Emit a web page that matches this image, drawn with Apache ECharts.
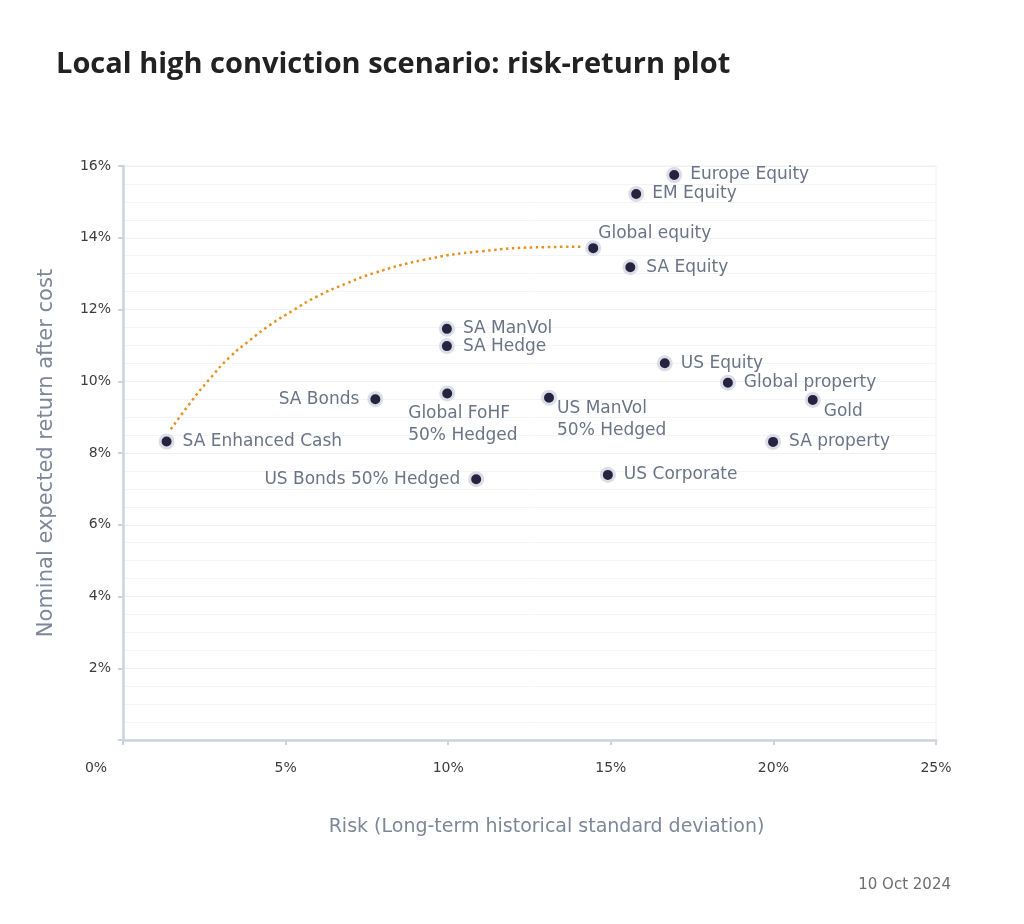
<!DOCTYPE html>
<html>
<head>
<meta charset="utf-8">
<script src="https://cdn.jsdelivr.net/npm/echarts@6/dist/echarts.min.js"></script>
<style>
  html, body { margin: 0; padding: 0; background: #fff; }
  #chart { width: 1024px; height: 924px; }
</style>
</head>
<body>
<div id="chart"></div>
<script>
// asset classes, risk (x, %) and nominal expected return (y, %)
const names = ['SA Enhanced Cash', 'SA Bonds', 'Global FoHF\n50% Hedged', 'US Bonds 50% Hedged',
  'SA ManVol', 'SA Hedge', 'US ManVol\n50% Hedged', 'Global equity', 'SA Equity', 'EM Equity',
  'Europe Equity', 'US Corporate', 'US Equity', 'Global property', 'Gold', 'SA property'];
const risk = [1.34, 7.76, 9.97, 10.86, 9.96, 9.96, 13.10, 14.46, 15.60, 15.78,
  16.95, 14.91, 16.66, 18.60, 21.21, 19.99];
const ret = [8.32, 9.50, 9.66, 7.27, 11.46, 10.98, 9.54, 13.71, 13.18, 15.22,
  15.75, 7.39, 10.50, 9.96, 9.48, 8.31];

// dotted frontier curve
const frontierRisk = [1.47, 2.06, 2.68, 3.29, 3.91, 4.52, 5.24, 5.96, 6.88, 7.70, 9.23, 10.98, 13.03, 14.10];
const frontierRet = [8.66, 9.39, 10.08, 10.68, 11.15, 11.57, 11.98, 12.36, 12.73, 13.01, 13.38, 13.62, 13.74, 13.75];

const FONT = 'DejaVu Sans';
const labelColor = '#6b7486';
const axisColor = '#cdd2db';

// label placement per point (not data): side and nudge in px
const placement = {
  'SA Bonds': { pos: 'left' },
  'US Bonds 50% Hedged': { pos: 'left' },
  'Global FoHF\n50% Hedged': { pos: 'right', dx: -55, dy: 31 },
  'US ManVol\n50% Hedged': { pos: 'right', dx: -8, dy: 22 },
  'Global equity': { pos: 'right', dx: -11, dy: -15 },
  'Gold': { pos: 'right', dx: -5, dy: 12 }
};

const points = names.map((n, i) => {
  const p = placement[n] || { pos: 'right' };
  return {
    name: n,
    value: [risk[i], ret[i]],
    label: { position: p.pos, align: p.pos === 'left' ? 'right' : 'left' }
  };
});

const chart = echarts.init(document.getElementById('chart'));
chart.setOption({
  animation: false,
  title: {
    text: 'Local high conviction scenario: risk-return plot',
    left: 51, top: 45,
    textStyle: { fontFamily: 'Open Sans', fontWeight: 'bold', fontSize: 29, color: '#222' }
  },
  grid: {
    left: 123, right: 88, top: 166, bottom: 184,
    show: true, borderColor: '#eef0f4', borderWidth: 1
  },
  xAxis: {
    type: 'value', min: 0, max: 25, interval: 5,
    name: 'Risk (Long-term historical standard deviation)',
    nameLocation: 'middle', nameGap: 78,
    nameTextStyle: { fontFamily: FONT, fontSize: 19, color: '#7d8799', padding: [0, 0, 0, 34] },
    axisLine: { lineStyle: { color: axisColor, width: 2.5 } },
    axisTick: { show: true, length: 5, lineStyle: { color: axisColor, width: 2 } },
    axisLabel: {
      margin: 21, fontFamily: FONT, fontSize: 14, color: '#3c3c3c',
      formatter: v => v === 0 ? '{z|0%}' : v + '%',
      rich: { z: { fontFamily: FONT, fontSize: 14, color: '#3c3c3c', padding: [0, 54, 0, 0] } }
    },
    splitLine: { show: false }
  },
  yAxis: {
    type: 'value', min: 0, max: 16, interval: 2,
    name: 'Nominal expected return after cost',
    nameLocation: 'middle', nameGap: 66,
    nameTextStyle: { fontFamily: FONT, fontSize: 21, color: '#7d8799' },
    axisLine: { show: true, lineStyle: { color: axisColor, width: 2.5 } },
    axisTick: { show: true, length: 5, lineStyle: { color: axisColor, width: 2 } },
    axisLabel: {
      margin: 12, fontFamily: FONT, fontSize: 14, color: '#3c3c3c',
      formatter: v => v === 0 ? '' : v + '%'
    },
    splitLine: { show: true, lineStyle: { color: '#eef0f4', width: 1 } },
    minorTick: { show: false, splitNumber: 4 },
    minorSplitLine: { show: true, lineStyle: { color: '#f2f4f7', width: 1 } }
  },
  graphic: [{
    type: 'text', right: 73, top: 878,
    style: { text: '10 Oct 2024', fontFamily: FONT, fontSize: 15, fill: '#6e6e6e' }
  }],
  series: [
    {
      type: 'line',
      data: frontierRisk.map((x, i) => [x, frontierRet[i]]),
      smooth: true, showSymbol: false, silent: true, z: 1,
      lineStyle: { color: '#e8901e', width: 2.5, type: [2.5, 3.5] }
    },
    {
      type: 'scatter', z: 3,
      data: points,
      symbolSize: 13,
      itemStyle: { color: '#262341', borderColor: '#dcdde6', borderWidth: 3, opacity: 1 },
      label: {
        show: true, formatter: p => p.name, distance: 8,
        fontFamily: FONT, fontSize: 17, color: labelColor, lineHeight: 22.5
      },
      labelLayout: params => {
        const p = placement[names[params.dataIndex]];
        return p ? { dx: p.dx || 0, dy: p.dy || 0, hideOverlap: false } : { hideOverlap: false };
      }
    }
  ]
});
</script>
</body>
</html>
